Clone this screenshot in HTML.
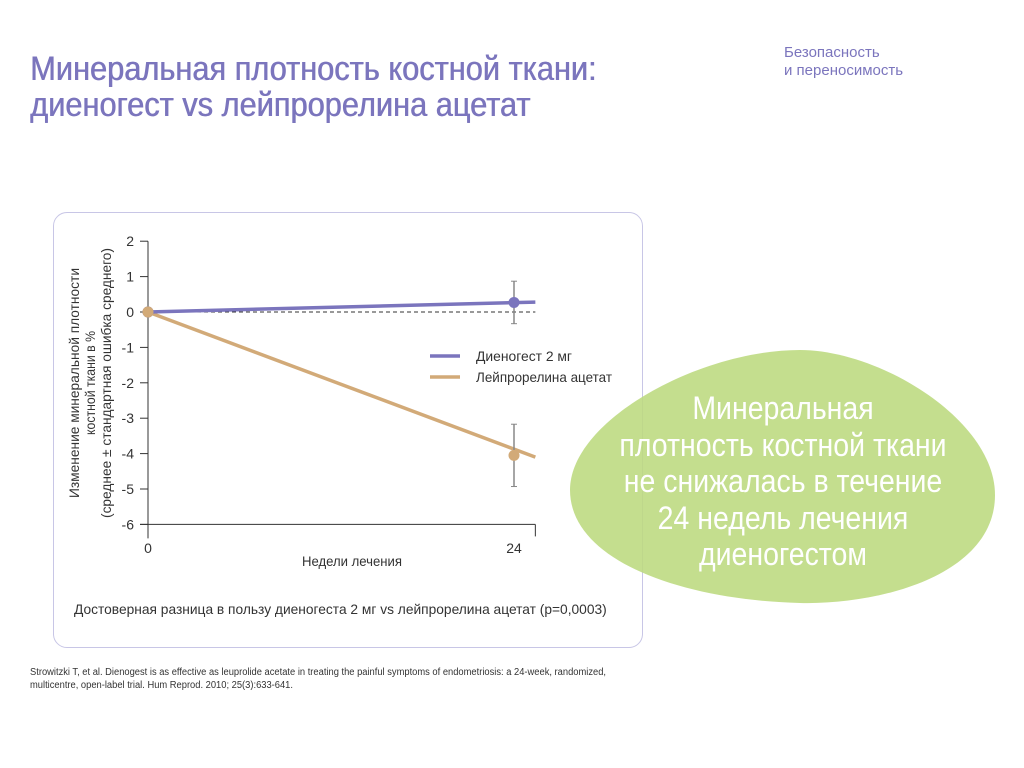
<!DOCTYPE html>
<html><head><meta charset="utf-8"><style>
body{margin:0;width:1024px;height:768px;background:#fff;position:relative;overflow:hidden;font-family:"Liberation Sans",sans-serif}
.t{position:absolute}
</style></head><body>
<div class="t" style="left:30px;top:51px;font-size:34px;line-height:36px;color:#7b75bd;transform:scaleX(0.905);transform-origin:0 0;white-space:nowrap;text-shadow:0.6px 0 0 #7b75bd;">Минеральная плотность костной ткани:<br>диеногест vs лейпрорелина ацетат</div>
<div class="t" style="left:784px;top:44px;font-size:15px;line-height:18px;color:#7b75bd;white-space:nowrap;">Безопасность<br>и переносимость</div>
<div class="t" style="left:53px;top:212px;width:588px;height:434px;border:1px solid #c8c6e6;border-radius:14px;"></div>
<svg class="t" style="left:0;top:0" width="1024" height="768">
<g id="g" font-family="Liberation Sans, sans-serif"></g>
<path d="M800,350 C880,350 995,420 995,495 C995,575 880,605 800,603 C680,600 570,560 570,490 C570,420 700,350 800,350 Z" fill="#bcd97e" fill-opacity="0.88"/>
</svg>
<div class="t" style="left:583px;top:390px;width:400px;text-align:center;font-size:32px;line-height:36.5px;color:#fff;transform:scaleX(0.89);transform-origin:50% 0;white-space:nowrap;">Минеральная<br>плотность костной ткани<br>не снижалась в течение<br>24 недель лечения<br>диеногестом</div>
<div class="t" style="left:74px;top:601px;font-size:14px;color:#333;transform:scaleX(0.983);transform-origin:0 0;white-space:nowrap;">Достоверная разница в пользу диеногеста 2 мг vs лейпрорелина ацетат (p=0,0003)</div>
<div class="t" style="left:30px;top:666px;font-size:10px;line-height:13px;color:#333;transform:scaleX(0.935);transform-origin:0 0;white-space:nowrap;">Strowitzki T, et al. Dienogest is as effective as leuprolide acetate in treating the painful symptoms of endometriosis: a 24-week, randomized,<br>multicentre, open-label trial. Hum Reprod. 2010; 25(3):633-641.</div>
<script>
const yTicks=[2,1,0,-1,-2,-3,-4,-5,-6];
const xTicks=[0,24];
const weeks=[0,24];
const dienogest=[0,0.27];
const dienogestErr=[0,0.6];
const leuprolide=[0,-4.05];
const leuprolideErr=[0,0.88];
const lineEndWeek=25.4;
const dienogestLineEnd=0.28;
const leuprolideLineEnd=-4.1;
const X=w=>148+w*(514-148)/24, Y=v=>312-v*35.4;
const g=document.getElementById('g'),NS='http://www.w3.org/2000/svg';
function el(t,a,txt){const e=document.createElementNS(NS,t);for(const k in a)e.setAttribute(k,a[k]);if(txt!==undefined)e.textContent=txt;g.appendChild(e);return e;}
let e;
e=el('line',{x1:148,y1:Y(2),x2:148,y2:Y(-6)+14,stroke:'#333','stroke-width':1});


e=el('line',{x1:140,y1:Y(-6),x2:X(lineEndWeek),y2:Y(-6),stroke:'#333','stroke-width':1});


el('line',{x1:X(lineEndWeek),y1:Y(-6),x2:X(lineEndWeek),y2:Y(-6)+12,stroke:'#333'});
yTicks.forEach(v=>{el('line',{x1:140,y1:Y(v),x2:148,y2:Y(v),stroke:'#333'});
e=el('text',{x:134,y:Y(v)+5,'text-anchor':'end','font-size':14,fill:'#333'},String(v));

});
xTicks.forEach(w=>{e=el('text',{x:X(w),y:553,'text-anchor':'middle','font-size':14,fill:'#333'},String(w));

});
e=el('line',{x1:148,y1:Y(0),x2:X(lineEndWeek),y2:Y(0),stroke:'#333','stroke-dasharray':'4,3'});


e=el('text',{x:352,y:566,'text-anchor':'middle','font-size':14,fill:'#333',textLength:100,lengthAdjust:'spacingAndGlyphs'},'Недели лечения');


const yt=['Изменение минеральной плотности','костной ткани в %','(среднее ± стандартная ошибка среднего)'];
const ytl=[230,104,270];
yt.forEach((s,i)=>{e=el('text',{x:0,y:0,transform:`translate(${79+i*16},383) rotate(-90)`,'text-anchor':'middle','font-size':14,fill:'#333',textLength:ytl[i],lengthAdjust:'spacingAndGlyphs'},s);

});
function series(vals,err,end,col,name){
 e=el('line',{x1:X(weeks[0]),y1:Y(vals[0]),x2:X(lineEndWeek),y2:Y(end),stroke:col,'stroke-width':3.5});
 
 
 weeks.forEach((w,i)=>{if(err[i]>0){e=el('line',{x1:X(w),y1:Y(vals[i]+err[i]),x2:X(w),y2:Y(vals[i]-err[i]),stroke:'#888','stroke-width':1.5});
 
 
 el('line',{x1:X(w)-3,y1:Y(vals[i]+err[i]),x2:X(w)+3,y2:Y(vals[i]+err[i]),stroke:'#888'});
 el('line',{x1:X(w)-3,y1:Y(vals[i]-err[i]),x2:X(w)+3,y2:Y(vals[i]-err[i]),stroke:'#888'});}
 e=el('circle',{cx:X(w),cy:Y(vals[i]),r:5.5,fill:col});
 
 });
}
series(leuprolide,leuprolideErr,leuprolideLineEnd,'#d2aa78','leuprolide');
series(dienogest,dienogestErr,dienogestLineEnd,'#7b75bd','dienogest');
el('circle',{cx:X(0),cy:Y(0),r:5.5,fill:'#d2aa78'});
[['Диеногест 2 мг','#7b75bd',356,96],['Лейпрорелина ацетат','#d2aa78',377,136]].forEach(([s,c,y,tl])=>{
 e=el('line',{x1:430,y1:y,x2:460,y2:y,stroke:c,'stroke-width':3.5});
 
 
 e=el('text',{x:476,y:y+5,'font-size':14,fill:'#333',textLength:tl,lengthAdjust:'spacingAndGlyphs'},s);
 
 });
</script>
</body></html>
